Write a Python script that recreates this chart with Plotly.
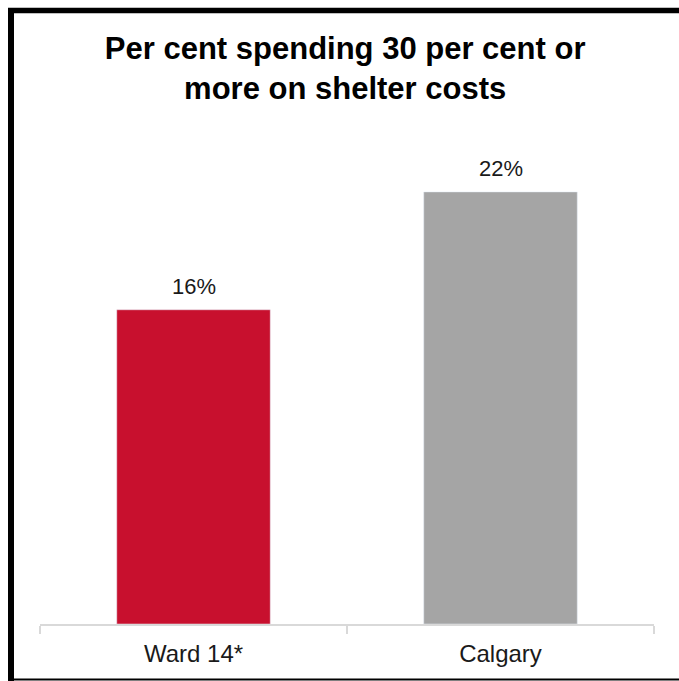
import plotly.graph_objects as go

categories = ["Ward 14*", "Calgary"]
values = [16, 22]
labels = ["16%", "22%"]
colors = ["#C8102E", "#A5A5A5"]

title_text = "Per cent spending 30 per cent or<br>more on shelter costs"

W, H = 679, 681
L, R, T, B = 40, 25, 133, 57
pw = W - L - R
ph = H - T - B

def px_x(px):
    return (px - L) / pw

def px_y(py):
    return (H - B - py) / ph

fig = go.Figure()
fig.add_trace(go.Bar(
    x=categories, y=values, marker_color=colors, width=0.5,
    hoverinfo="skip",
))

for c, v, t in zip(categories, values, labels):
    fig.add_annotation(x=c, y=v, text=t, showarrow=False, yanchor="middle",
                       yshift=23, xref="x", yref="y",
                       font=dict(family="Arial, Liberation Sans", size=22, color="#1a1a1a"))

shapes = [
    dict(type="line", xref="paper", yref="paper", x0=px_x(8), x1=px_x(W + 5),
         y0=px_y(10.5), y1=px_y(10.5), line=dict(color="black", width=5.5)),
    dict(type="line", xref="paper", yref="paper", x0=px_x(11), x1=px_x(11),
         y0=px_y(8), y1=px_y(H + 5), line=dict(color="black", width=6)),
    dict(type="line", xref="paper", yref="paper", x0=px_x(8), x1=px_x(W + 5),
         y0=px_y(679.5), y1=px_y(679.5), line=dict(color="black", width=2)),
]

fig.update_layout(
    width=W, height=H,
    margin=dict(l=L, r=R, t=T, b=B, pad=0),
    paper_bgcolor="white", plot_bgcolor="white",
    showlegend=False,
    title=dict(text=title_text, x=0.497, xref="paper", xanchor="center",
               y=1 - 59 / H, yref="container", yanchor="top",
               font=dict(family="Arial, Liberation Sans", size=31, color="black", weight="bold")),
    xaxis=dict(showline=True, linecolor="#d9d9d9", linewidth=1.5,
               ticks="outside", tickson="boundaries", ticklen=8, tickwidth=1.5,
               tickcolor="#d9d9d9", showgrid=False, ticklabelstandoff=7,
               tickfont=dict(family="Arial, Liberation Sans", size=24, color="#1a1a1a")),
    yaxis=dict(visible=False, range=[0, 25], showgrid=False, zeroline=False),
    shapes=shapes,
    bargap=0.5,
)

fig.write_html("out.html", config={"displayModeBar": False},
               post_script="document.body.style.margin='0';document.body.style.overflow='hidden';")
